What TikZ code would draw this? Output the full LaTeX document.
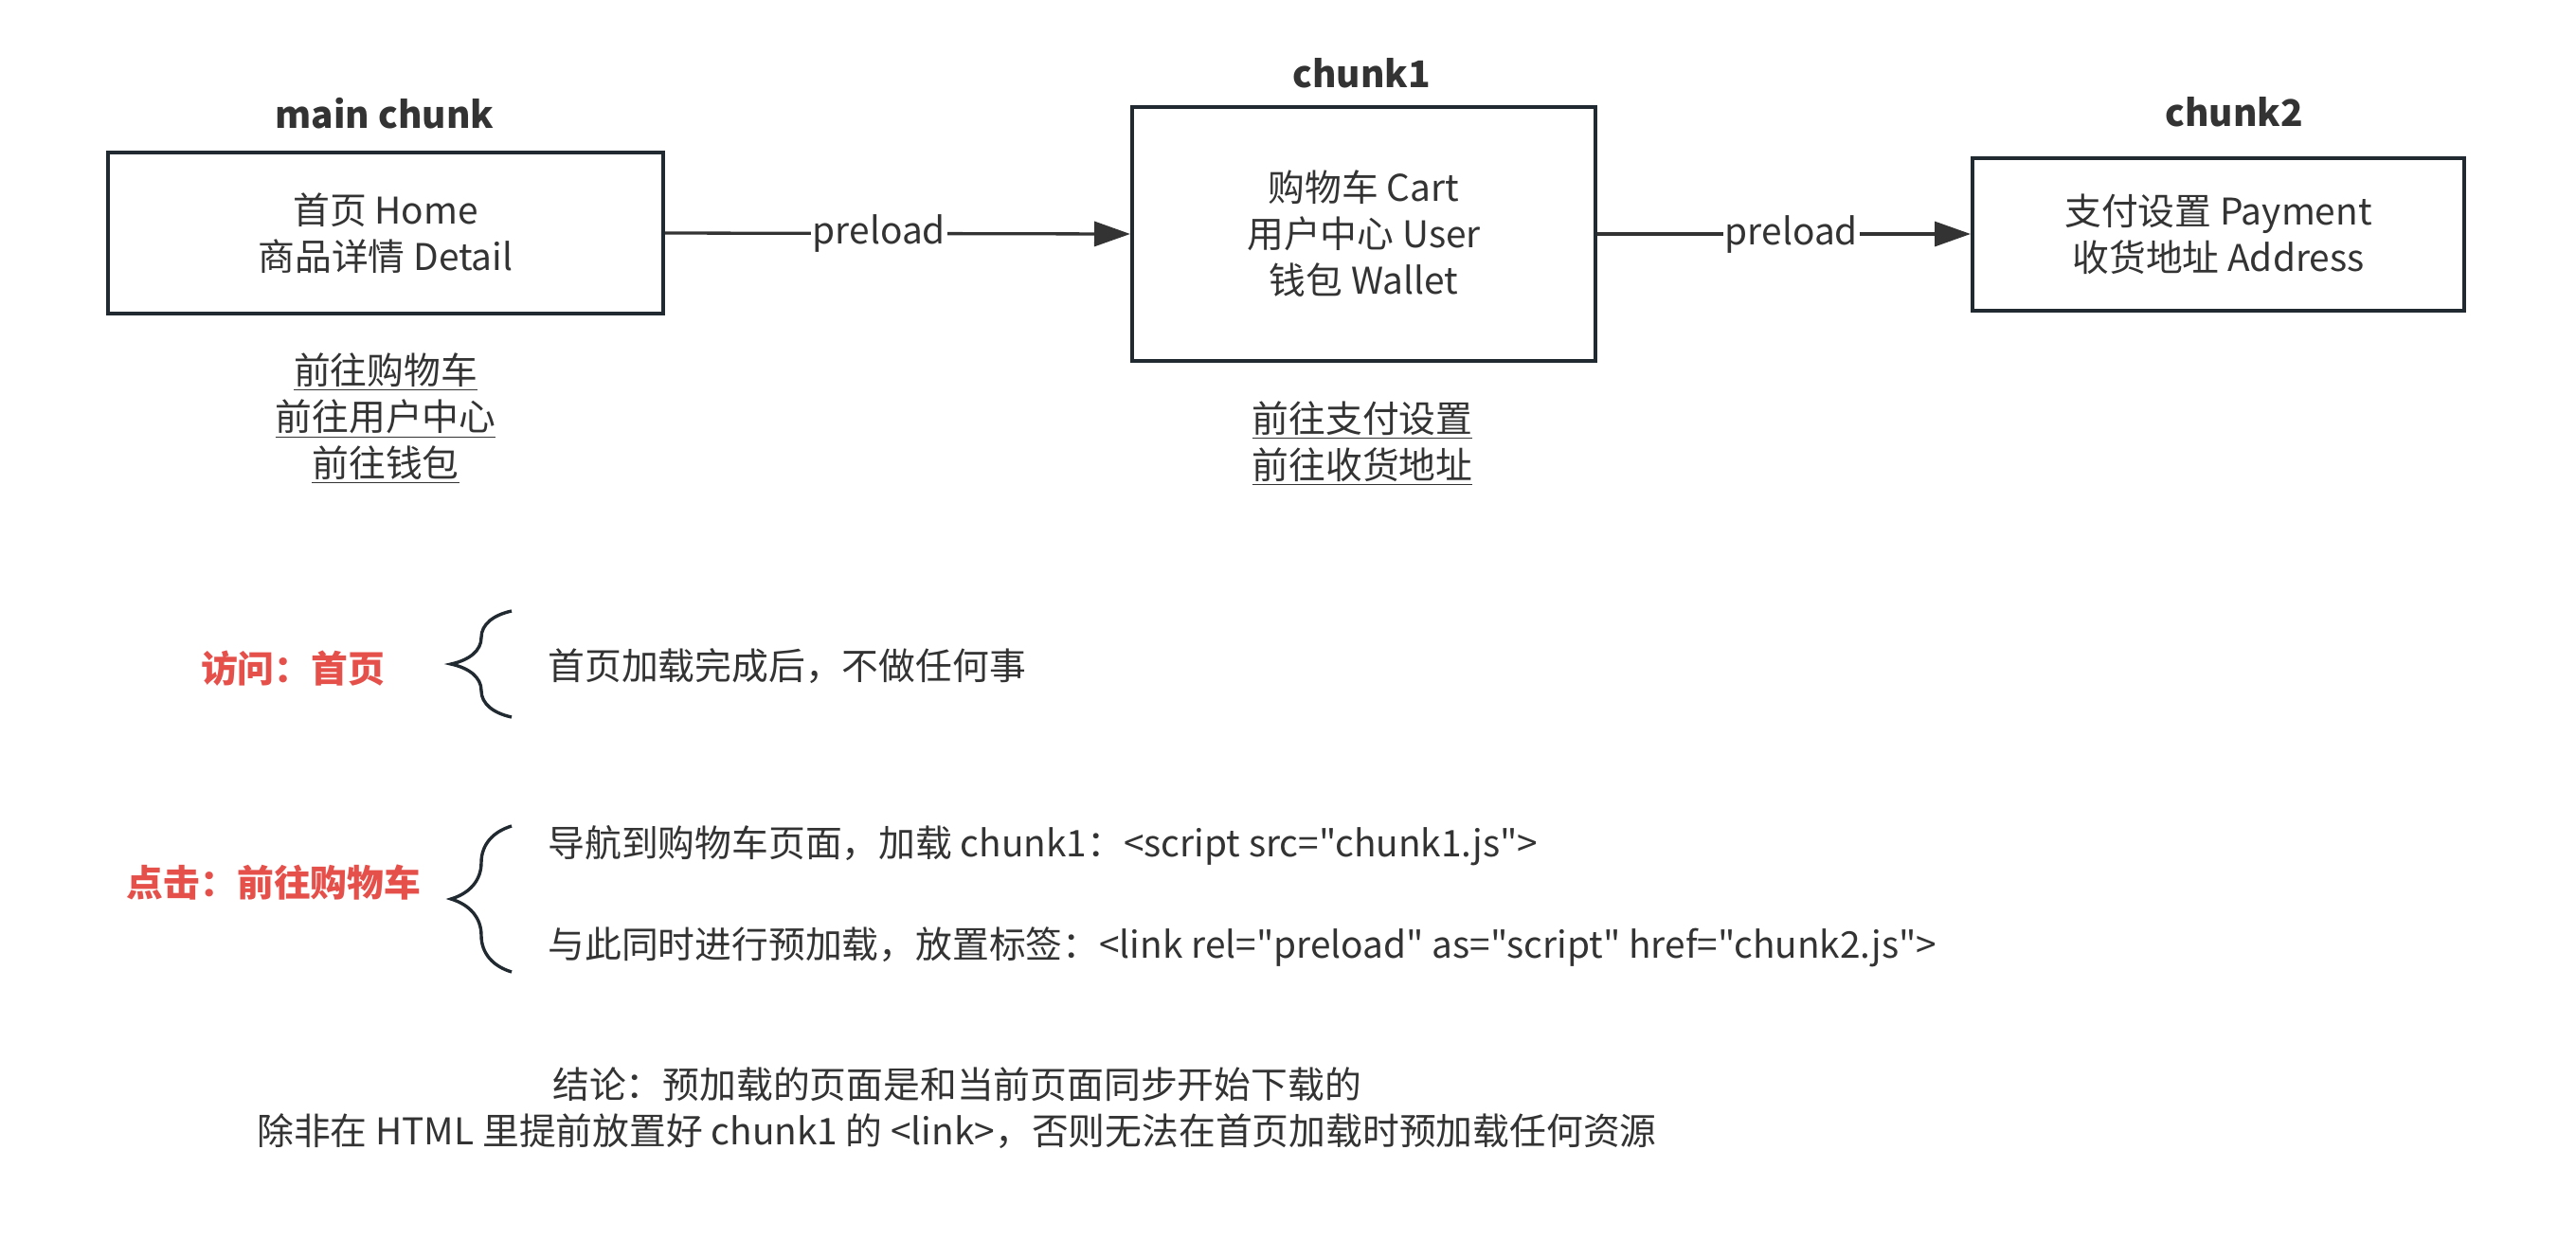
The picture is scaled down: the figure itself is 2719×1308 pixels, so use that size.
\documentclass[tikz,border=0pt]{standalone}
\usepackage{fontspec}
\setmainfont{Noto Sans CJK SC}[Ligatures=TeXOff]
\usetikzlibrary{arrows.meta,decorations.pathreplacing}
\definecolor{ink}{HTML}{333333}
\definecolor{edge}{HTML}{222A31}
\definecolor{alert}{HTML}{E5504B}
\begin{document}
\begin{tikzpicture}[x=0.5pt, y=-0.5pt,
		every node/.style = {text=ink, font=\fontsize{19.4}{24.5}\selectfont, align=center},
		box/.style = {draw=edge, line width=2pt, inner sep=0pt},
		ttl/.style = {font=\fontsize{19.4}{24.5}\selectfont\bfseries},
		lnk/.style = {draw=ink, line width=1.65pt, -{Triangle[length=19pt,width=13pt]}},
		lbl/.style = {fill=white, inner sep=1pt},
		brc/.style = {draw=edge, line width=1.7pt, decorate, decoration={brace, amplitude=32pt}},
		red/.style = {text=alert, font=\fontsize{19.4}{24.5}\selectfont\bfseries},
		txt/.style = {anchor=west, inner sep=0pt}]
				\useasboundingbox (0,0) rectangle (2719,1308);
				
				\node[box, minimum width=293pt, minimum height=85pt] (main) at (407,246) {首页 Home\\商品详情 Detail};
				\node[box, minimum width=244.5pt, minimum height=133.75pt] (c1) at (1439.5,247) {购物车 Cart\\用户中心 User\\钱包 Wallet};
				\node[box, minimum width=259.5pt, minimum height=80.5pt] (c2) at (2341.5,247) {支付设置 Payment\\收货地址 Address};
				
				\node[ttl] (tmain) at (406,120) {main chunk};
				\node[ttl] (tc1) at (1437,77) {chunk1};
				\node[ttl] (tc2) at (2358,118) {chunk2};
				
				\node (gmain) at (407,442) {\underline{前往购物车}\\\underline{前往用户中心}\\\underline{前往钱包}};
				\node (gc1) at (1438,468) {\underline{前往支付设置}\\\underline{前往收货地址}};
				
				\draw[lnk] (main.east) -- node[lbl, pos=.46] {preload} (c1.west);
				\draw[lnk] (c1.east) -- node[lbl, pos=.52] {preload} (c2.west);
				
				\node[red] (visit) at (309,706) {访问：首页};
				\node[red] (click) at (289,932) {点击：前往购物车};
				
				\coordinate (b1) at (540,757);
				\coordinate (b2) at (540,645);
				\coordinate (b3) at (540,1026);
				\coordinate (b4) at (540,872);
				\draw[brc] (b1) -- (b2);
				\draw[brc] (b3) -- (b4);
				
				\node[txt] (s1) at (578,703) {首页加载完成后，不做任何事};
				\node[txt] (s2) at (578,893) {导航到购物车页面，加载 chunk1：<script src="chunk1.js">};
				\node[txt] (s3) at (578,1000) {与此同时进行预加载，放置标签：<link rel="preload" as="script" href="chunk2.js">};
				
				\node (res) at (1010,1170) {结论：预加载的页面是和当前页面同步开始下载的\\除非在 HTML 里提前放置好 chunk1 的 <link>，否则无法在首页加载时预加载任何资源};
			\end{tikzpicture}
\end{document}
